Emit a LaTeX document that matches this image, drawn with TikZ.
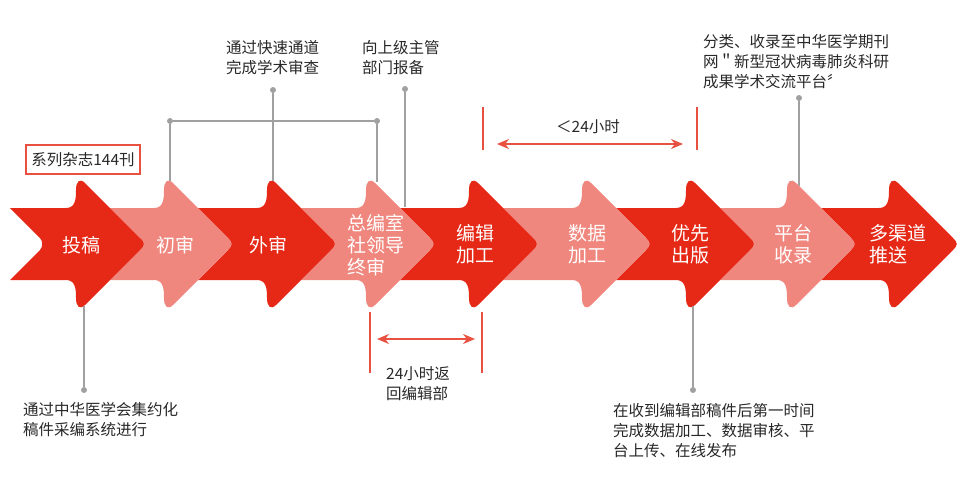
\documentclass[tikz,border=0pt]{standalone}
\usepackage{fontspec}
\usepackage{xcolor}
\usetikzlibrary{arrows.meta}
\setmainfont{Noto Sans CJK SC}
\definecolor{arrred}{RGB}{230,40,22}
\definecolor{arrpink}{RGB}{240,135,126}
\definecolor{dimred}{RGB}{232,80,64}
\definecolor{linegray}{RGB}{160,160,160}
\definecolor{notegray}{RGB}{40,40,40}
\newcommand{\flowarr}[3]{%
	\fill[#3] (#1,208) -- ({#2-16},208) .. controls ({#2-7},208) and ({#2-6},200) .. ({#2-6},190)
		.. controls ({#2-6},181) and ({#2-2},178) .. ({#2+3},183) -- ({#2+58},238)
		.. controls ({#2+63},243) and ({#2+63},245) .. ({#2+58},250) -- ({#2+3},305)
		.. controls ({#2-2},310) and ({#2-6},307) .. ({#2-6},298)
		.. controls ({#2-6},288) and ({#2-7},280) .. ({#2-16},280) -- (#1,280)
		-- ({#1+30},250) .. controls ({#1+33},247) and ({#1+33},241) .. ({#1+30},238) -- cycle;}

\begin{document}
\begin{tikzpicture}[x=1pt,y=-1pt,
	arrtext/.style={text=white,font=\fontsize{19}{22}\selectfont,align=left,inner sep=0pt},
	note/.style={text=notegray,font=\fontsize{15.5}{20}\selectfont,align=left,inner sep=0pt},
	conn/.style={linegray,line width=2pt},
	dot/.style={circle,fill=linegray,inner sep=0pt,minimum size=6pt},
	dim/.style={dimred,line width=2pt},
	dimarrow/.style={dimred,line width=2pt,{Stealth[length=12pt,width=10pt]}-{Stealth[length=12pt,width=10pt]}}]
	\useasboundingbox (0,0) rectangle (969,477);

	\flowarr{821}{895}{arrred}
	\flowarr{720}{793}{arrpink}
	\flowarr{616}{692}{arrred}
	\flowarr{503}{588}{arrpink}
	\flowarr{400}{475}{arrred}
	\flowarr{301}{372}{arrpink}
	\flowarr{198}{273}{arrred}
	\flowarr{110}{170}{arrpink}
	\flowarr{10}{82}{arrred}

	\node[arrtext] (tougao) at (81,245) {投稿};
	\node[arrtext] (chushen) at (175,245) {初审};
	\node[arrtext] (waishen) at (268,245) {外审};
	\node[arrtext] (zongshen) at (376,245) {总编室\\社领导\\终审};
	\node[arrtext] (bianji) at (475,244) {编辑\\加工};
	\node[arrtext] (shuju) at (587,244) {数据\\加工};
	\node[arrtext] (youxian) at (690,244) {优先\\出版};
	\node[arrtext] (pingtai) at (793,244) {平台\\收录};
	\node[arrtext] (tuisong) at (898,244) {多渠道\\推送};

	\node[note,draw=dimred,line width=1.6pt,minimum width=114pt,minimum height=29pt] (kanshu) at (83,159.5) {系列杂志144刊};

	\node[note,anchor=north west] (kuaisu) at (226,40) {通过快速通道\\完成学术审查};
	\node[note,anchor=north west] (baobei) at (362,40) {向上级主管\\部门报备};
	\node[note,anchor=north west] (shoulu) at (703,34) {分类、收录至中华医学期刊\\网＂新型冠状病毒肺炎科研\\成果学术交流平台〞};
	\node[note,anchor=north west] (caibian) at (23,402) {通过中华医学会集约化\\稿件采编系统进行};
	\node[note,anchor=north] (fanhui) at (418,366) {24小时返\\回编辑部};
	\node[note,anchor=north west] (fabu) at (613,403) {在收到编辑部稿件后第一时间\\完成数据加工、数据审核、平\\台上传、在线发布};
	\node[note] (xiaoshi) at (588,127) {＜24小时};

	\node[dot] (d1) at (84,390) {};
	\node[dot] (d2) at (170,121) {};
	\node[dot] (d3) at (377,121) {};
	\node[dot] (d4) at (273,90) {};
	\node[dot] (d5) at (405,89) {};
	\node[dot] (d6) at (799,98) {};
	\node[dot] (d7) at (693,390) {};
	\coordinate (a1) at (84,306);
	\coordinate (a2) at (170,181);
	\coordinate (a3) at (273,181);
	\coordinate (a4) at (377,182);
	\coordinate (a5) at (405,207);
	\coordinate (a6) at (799,186);
	\coordinate (a7) at (693,306);
	\draw[conn] (a1) -- (d1);
	\draw[conn] (d2) -- (d3);
	\draw[conn] (d2) -- (a2);
	\draw[conn] (d3) -- (a4);
	\draw[conn] (d4) -- (a3);
	\draw[conn] (d5) -- (a5);
	\draw[conn] (d6) -- (a6);
	\draw[conn] (a7) -- (d7);

	\coordinate (t1) at (483,107);
	\coordinate (t2) at (483,150);
	\coordinate (t3) at (697,107);
	\coordinate (t4) at (697,150);
	\coordinate (t5) at (497,144);
	\coordinate (t6) at (683,144);
	\draw[dim] (t1) -- (t2);
	\draw[dim] (t3) -- (t4);
	\draw[dimarrow] (t5) -- (t6);
	\coordinate (b1) at (370,312);
	\coordinate (b2) at (370,373);
	\coordinate (b3) at (482,312);
	\coordinate (b4) at (482,373);
	\coordinate (b5) at (377,339);
	\coordinate (b6) at (475,339);
	\draw[dim] (b1) -- (b2);
	\draw[dim] (b3) -- (b4);
	\draw[dimarrow] (b5) -- (b6);
\end{tikzpicture}
\end{document}
